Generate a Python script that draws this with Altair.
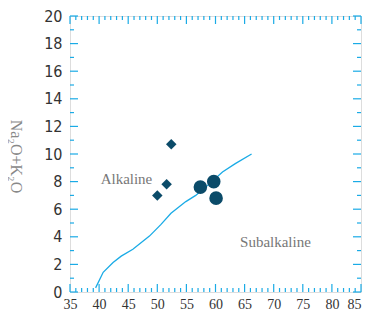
import altair as alt
import pandas as pd

# ---- data ----
alk_x = [52.4, 51.6, 50.0]
alk_y = [10.7, 7.8, 7.0]
sub_x = [57.4, 59.7, 60.1]
sub_y = [7.6, 8.0, 6.8]
boundary_x = [39.4, 40.7, 42.4, 43.8, 45.8, 48.65, 50.6, 52.35, 54.9, 56.6, 58.3, 61.2, 63.4, 66.2]
boundary_y = [0.3, 1.43, 2.14, 2.6, 3.1, 4.05, 4.88, 5.7, 6.55, 7.0, 7.6, 8.7, 9.3, 10.0]
x_ticks = [35, 40, 45, 50, 55, 60, 65, 70, 75, 80, 85]
y_ticks = [0, 2, 4, 6, 8, 10, 12, 14, 16, 18, 20]
x_minor = [v for v in range(36, 85) if v % 5 != 0]
y_minor = [v for v in range(1, 20, 2)]
region_labels = ["Alkaline", "Subalkaline"]
region_x = [44.7, 70.3]
region_y = [8.2, 3.6]

W, H = 291, 276
BLUE = "#1aabe6"
DARK = "#0b4b69"

xs = alt.Scale(domain=[35, 85], nice=False, zero=False)
ys = alt.Scale(domain=[0, 20], nice=False)

ax_x = alt.Axis(values=x_ticks, ticks=False, domain=False, grid=False,
                labelOverlap=False, labelFlush=False, title=None,
                labelAlign={"expr": "datum.value == 85 ? 'right' : 'center'"},
                labelFont="Liberation Serif", labelFontSize=14, labelColor="#333",
                labelPadding=5)
ax_y = alt.Axis(values=y_ticks, ticks=False, domain=False, grid=False,
                labelOverlap=False, labelFlush=False,
                labelFont="Liberation Sans Narrow, DejaVu Sans Condensed, Arial Narrow, sans-serif",
                labelFontSize=16, labelColor="#333",
                labelPadding=8, title="Na₂O+K₂O", titleAngle=90,
                titleFont="Liberation Serif", titleFontSize=16, titleFontWeight="normal",
                titleColor="#888", titleX=-55, titleY=140, titleAlign="center",
                titleBaseline="middle")

def X(f):
    return alt.X(f, scale=xs, axis=ax_x, title=None)

def Y(f):
    return alt.Y(f, scale=ys, axis=ax_y, title="Na₂O+K₂O")

pts = pd.DataFrame({
    "x": alk_x + sub_x,
    "y": alk_y + sub_y,
    "g": ["alk"] * 3 + ["sub"] * 3,
})
line_df = pd.DataFrame({"x": boundary_x, "y": boundary_y, "o": list(range(len(boundary_x)))})
lab_df = pd.DataFrame({"t": region_labels, "x": region_x, "y": region_y})
xmaj = pd.DataFrame({"v": x_ticks})
xmin = pd.DataFrame({"v": x_minor})
ymaj = pd.DataFrame({"v": y_ticks})
ymin = pd.DataFrame({"v": y_minor})

line = alt.Chart(line_df).mark_line(color=BLUE, strokeWidth=1.3).encode(
    x=X("x:Q"), y=Y("y:Q"), order="o:Q")

diamonds = alt.Chart(pts[pts.g == "alk"]).mark_point(
    shape="diamond", filled=True, color=DARK, size=110, opacity=1
).encode(x=X("x:Q"), y=Y("y:Q"))

circles = alt.Chart(pts[pts.g == "sub"]).mark_point(
    shape="circle", filled=True, color=DARK, size=185, opacity=1
).encode(x=X("x:Q"), y=Y("y:Q"))

labels = alt.Chart(lab_df).mark_text(
    font="Liberation Serif", fontSize=15, color="#777", align="center", baseline="middle"
).encode(x=X("x:Q"), y=Y("y:Q"), text="t:N")

def xrule(df, y0, y1):
    return alt.Chart(df).mark_rule(color=BLUE, strokeWidth=1.2).encode(
        x=X("v:Q"), y=alt.value(y0), y2=alt.value(y1))

def yrule(df, x0, x1):
    return alt.Chart(df).mark_rule(color=BLUE, strokeWidth=1.2).encode(
        y=Y("v:Q"), x=alt.value(x0), x2=alt.value(x1))

ticks = [
    xrule(xmaj, H, H - 8), xrule(xmin, H, H - 4),
    xrule(xmaj, 0, 8), xrule(xmin, 0, 4),
    yrule(ymaj, 0, 8), yrule(ymin, 0, 4),
    yrule(ymaj, W, W - 8), yrule(ymin, W, W - 4),
]

chart = alt.layer(line, *ticks, diamonds, circles, labels).properties(
    width=W, height=H,
    autosize=alt.AutoSizeParams(type="none"),
    padding={"left": 62, "top": 8, "right": 1, "bottom": 18},
).configure_view(stroke=BLUE, strokeWidth=3).configure_axis(
    labelOverlap=False
).configure(background="white")

chart.save("out.html", embed_options={"renderer": "svg", "actions": False})
